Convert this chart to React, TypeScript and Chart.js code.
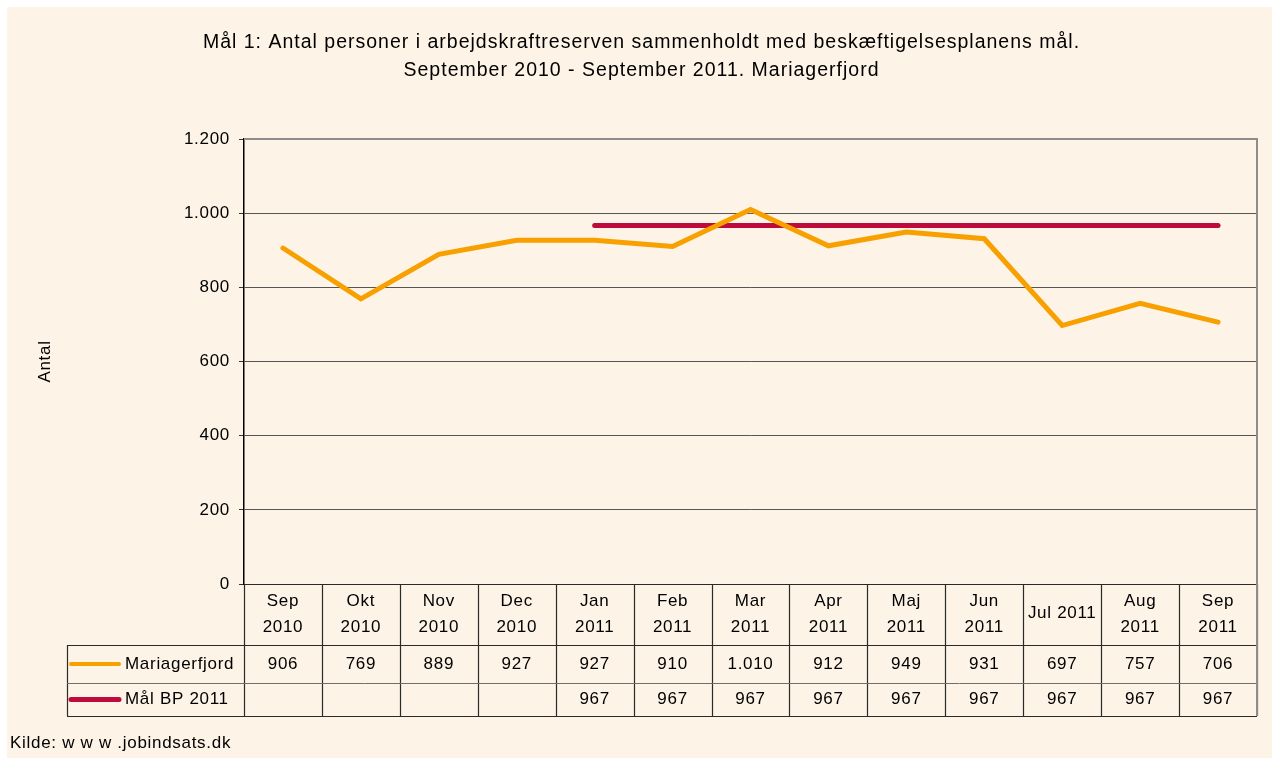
import React, { useEffect, useRef } from "react";
import { Chart, registerables } from "chart.js";

Chart.register(...registerables);

const categoryLines: string[][] = [
  ["Sep", "2010"], ["Okt", "2010"], ["Nov", "2010"], ["Dec", "2010"],
  ["Jan", "2011"], ["Feb", "2011"], ["Mar", "2011"], ["Apr", "2011"],
  ["Maj", "2011"], ["Jun", "2011"], ["Jul 2011"], ["Aug", "2011"], ["Sep", "2011"],
];
const categories = categoryLines.map((l) => l.join(" "));
const mariagerfjord: (number | null)[] = [906, 769, 889, 927, 927, 910, 1010, 912, 949, 931, 697, 757, 706];
const maalBP2011: (number | null)[] = [null, null, null, null, 967, 967, 967, 967, 967, 967, 967, 967, 967];
const yTicks = [0, 200, 400, 600, 800, 1000, 1200];
const titleLines = [
  "Mål 1: Antal personer i arbejdskraftreserven sammenholdt med beskæftigelsesplanens mål.",
  "September 2010 - September 2011. Mariagerfjord",
];
const seriesNames = ["Mariagerfjord", "Mål BP 2011"];
const yAxisTitle = "Antal";
const sourceText = "Kilde: w w w .jobindsats.dk";

const ORANGE = "#F7A000";
const RED = "#BE0A3C";
const BG = "#FDF3E6";
const FONT = "'Liberation Sans', Arial, sans-serif";
const FS = 17;
const LS = "0.7px";

const fmt = (v: number | null) =>
  v === null ? "" : v.toLocaleString("de-DE", { maximumFractionDigits: 0 });

const spacingPlugin = {
  id: "spacing",
  beforeDraw(chart: any) {
    (chart.ctx as any).letterSpacing = LS;
  },
};

const decorPlugin = {
  id: "decor",
  afterDraw(chart: any) {
    const ctx: CanvasRenderingContext2D = chart.ctx;
    const ca = chart.chartArea;
    const xs = chart.scales.x;
    const n = categories.length;
    const colW = (ca.right - ca.left) / n;
    ctx.save();
    ctx.fillStyle = "#000";
    ctx.textBaseline = "middle";

    // Title
    ctx.textAlign = "center";
    ctx.font = `19.5px ${FONT}`;
    (ctx as any).letterSpacing = "1px";
    const cx = chart.width / 2 + 2;
    ctx.fillText(titleLines[0], cx, 36);
    ctx.fillText(titleLines[1], cx, 64);

    ctx.font = `${FS}px ${FONT}`;
    (ctx as any).letterSpacing = LS;

    // Y axis title
    ctx.save();
    ctx.translate(38, (ca.top + ca.bottom) / 2);
    ctx.rotate(-Math.PI / 2);
    ctx.fillText(yAxisTitle, 0, 0);
    ctx.restore();

    // Plot border top/right
    ctx.strokeStyle = "#8c8c8c";
    ctx.lineWidth = 2;
    ctx.beginPath();
    ctx.moveTo(ca.left, ca.top);
    ctx.lineTo(ca.right, ca.top);
    ctx.lineTo(ca.right, ca.bottom);
    ctx.stroke();

    // Table
    const hTop = ca.bottom;
    const r1Top = hTop + 61;
    const r2Top = r1Top + 38;
    const tBot = r2Top + 33;
    const tLeft = 60;

    ctx.strokeStyle = "#2a2a2a";
    ctx.lineWidth = 1.2;
    ctx.beginPath();
    ctx.moveTo(ca.left, hTop + 0.5);
    ctx.lineTo(ca.right, hTop + 0.5);
    ctx.moveTo(tLeft, r1Top + 0.5);
    ctx.lineTo(ca.right, r1Top + 0.5);
    ctx.moveTo(tLeft, tBot + 0.5);
    ctx.lineTo(ca.right, tBot + 0.5);
    ctx.moveTo(tLeft + 0.5, r1Top);
    ctx.lineTo(tLeft + 0.5, tBot);
    for (let k = 0; k <= n; k++) {
      const x = Math.round(ca.left + k * colW) + 0.5;
      ctx.moveTo(x, hTop);
      ctx.lineTo(x, tBot);
    }
    ctx.stroke();
    ctx.strokeStyle = "#6e6e6e";
    ctx.lineWidth = 1;
    ctx.beginPath();
    ctx.moveTo(tLeft, r2Top + 0.5);
    ctx.lineTo(ca.right, r2Top + 0.5);
    ctx.stroke();
    ctx.strokeStyle = "#8c8c8c";
    ctx.lineWidth = 2;
    ctx.beginPath();
    ctx.moveTo(ca.right, hTop);
    ctx.lineTo(ca.right, tBot);
    ctx.stroke();

    // header text
    ctx.textAlign = "center";
    const hMid = (hTop + r1Top) / 2;
    categoryLines.forEach((lines, i) => {
      const x = xs.getPixelForValue(i);
      if (lines.length === 1) ctx.fillText(lines[0], x, hMid - 1);
      else {
        ctx.fillText(lines[0], x, hMid - 13);
        ctx.fillText(lines[1], x, hMid + 13);
      }
    });
    const rows = [mariagerfjord, maalBP2011];
    const colors = [ORANGE, RED];
    const widths = [4, 5];
    const rowMids = [(r1Top + r2Top) / 2, (r2Top + tBot) / 2];
    rows.forEach((row, r) => {
      const y = rowMids[r];
      row.forEach((v, i) => {
        ctx.textAlign = "center";
        ctx.fillText(fmt(v), xs.getPixelForValue(i), y);
      });
      ctx.strokeStyle = colors[r];
      ctx.lineWidth = widths[r];
      ctx.lineCap = "round";
      ctx.beginPath();
      ctx.moveTo(64, y);
      ctx.lineTo(112, y);
      ctx.stroke();
      ctx.textAlign = "left";
      ctx.fillText(seriesNames[r], 118, y);
    });

    // Source
    ctx.textAlign = "left";
    ctx.fillText(sourceText, 3, 736);
    ctx.restore();
  },
};

export default function App() {
  const ref = useRef<HTMLCanvasElement>(null);
  useEffect(() => {
    if (!ref.current) return;
    const chart = new Chart(ref.current, {
      type: "line",
      data: {
        labels: categories,
        datasets: [
          {
            label: seriesNames[0],
            data: mariagerfjord,
            borderColor: ORANGE,
            backgroundColor: ORANGE,
            borderWidth: 5,
            pointRadius: 0,
            borderCapStyle: "round",
            borderJoinStyle: "miter",
            tension: 0,
          },
          {
            label: seriesNames[1],
            data: maalBP2011,
            borderColor: RED,
            backgroundColor: RED,
            borderWidth: 5,
            pointRadius: 0,
            borderCapStyle: "round",
            tension: 0,
          },
        ],
      },
      options: {
        animation: false,
        responsive: false,
        maintainAspectRatio: false,
        layout: { padding: { left: 0, top: 132, right: 15, bottom: 174 } },
        plugins: {
          legend: { display: false },
          title: { display: false },
          tooltip: { enabled: false },
        },
        scales: {
          x: {
            type: "category",
            display: false,
            offset: true,
          },
          y: {
            min: 0,
            max: 1200,
            afterBuildTicks: (scale: any) => {
              scale.ticks = yTicks.map((v) => ({ value: v }));
            },
            afterFit: (scale: any) => {
              scale.width = 237;
            },
            ticks: {
              color: "#000",
              font: { family: FONT, size: FS },
              padding: 9,
              callback: (v: any) => fmt(Number(v)),
            },
            grid: {
              color: (c: any) => (c.tick && c.tick.value === 1200 ? "#8c8c8c" : "#555555"),
              lineWidth: 1,
              tickLength: 5,
              tickColor: "#333",
              drawTicks: true,
            },
            border: { color: "#000", width: 1.5 },
          },
        },
      },
      plugins: [spacingPlugin, decorPlugin],
    } as any);
    return () => chart.destroy();
  }, []);
  return (
    <div style={{ position: "fixed", left: 7, top: 7, width: 1265, height: 751, background: BG }}>
      <canvas ref={ref} width={1265} height={751} style={{ display: "block", width: 1265, height: 751 }} />
    </div>
  );
}
